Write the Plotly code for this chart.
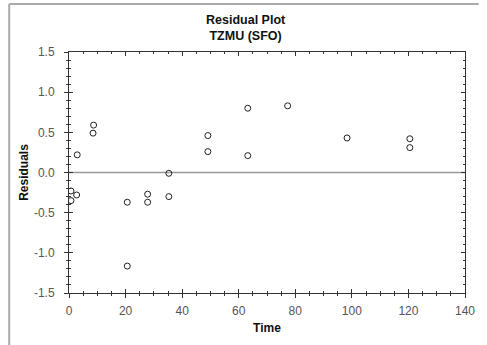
import plotly.graph_objects as go

time = [0.7, 0.7, 2.7, 2.9, 8.7, 8.5, 20.6, 20.6, 27.8, 27.8, 35.3, 35.3,
        49.1, 49.1, 63.2, 63.2, 77.3, 98.3, 120.5, 120.5]
residuals = [-0.23, -0.35, -0.28, 0.22, 0.59, 0.49, -0.37, -1.165, -0.27, -0.37,
             -0.01, -0.30, 0.46, 0.26, 0.80, 0.21, 0.83, 0.43, 0.42, 0.31]

x_range = [0, 140]
y_range = [-1.5, 1.5]
x_ticks = [0, 20, 40, 60, 80, 100, 120, 140]
y_ticks = [-1.5, -1.0, -0.5, 0.0, 0.5, 1.0, 1.5]
y_tick_text = ["-1.5", "-1.0", "-0.5", "0.0", "0.5", "1.0", "1.5"]

W, H = 487, 345
ML, MR, MT, MB = 69, 14, 52, 52
font = "Liberation Sans, Arial, sans-serif"
axcol = "#333333"
tickfont = dict(size=12, color="#555555", family=font)

fig = go.Figure()
fig.add_trace(go.Scatter(
    x=time, y=residuals, mode="markers",
    marker=dict(symbol="circle-open", size=6, color="#222222", line=dict(width=1)),
    showlegend=False, hoverinfo="skip"))
# invisible trace to activate overlay axes
fig.add_trace(go.Scatter(x=[None], y=[None], xaxis="x2", yaxis="y2", showlegend=False))

common = dict(showgrid=False, zeroline=False, linecolor=axcol, linewidth=1,
              tickcolor=axcol, tickwidth=1)

fig.update_layout(
    width=W, height=H,
    margin=dict(l=ML, r=MR, t=MT, b=MB),
    paper_bgcolor="white", plot_bgcolor="white",
    font=dict(family=font, color="#555555", size=12),
    xaxis=dict(range=x_range, tickvals=x_ticks, ticks="outside", ticklen=4,
               minor=dict(dtick=5, ticks="outside", ticklen=2, tickcolor=axcol),
               showline=True, tickfont=tickfont, ticklabelstandoff=3,
               title=dict(text="<b>Time</b>", font=dict(size=12, color="#111111"), standoff=6),
               **common),
    yaxis=dict(range=y_range, tickvals=y_ticks, ticktext=y_tick_text, ticks="outside", ticklen=4,
               minor=dict(dtick=0.1, ticks="outside", ticklen=2, tickcolor=axcol),
               showline=True, tickfont=tickfont, ticklabelstandoff=7,
               title=dict(text="<b>Residuals</b>", font=dict(size=12, color="#111111"), standoff=2),
               **common),
    xaxis2=dict(range=x_range, tickvals=x_ticks, ticks="inside", ticklen=4,
                minor=dict(dtick=5, ticks="inside", ticklen=2, tickcolor=axcol),
                showline=True, mirror="allticks", showticklabels=False,
                overlaying="x", anchor="y2", **common),
    yaxis2=dict(range=y_range, tickvals=y_ticks, ticks="inside", ticklen=4,
                minor=dict(dtick=0.1, ticks="inside", ticklen=2, tickcolor=axcol),
                showline=True, mirror="allticks", showticklabels=False,
                overlaying="y", anchor="x2", **common),
    shapes=[
        dict(type="line", xref="x", yref="y", x0=0, x1=140, y0=0, y1=0,
             line=dict(color="#999999", width=1.5), layer="below"),
        dict(type="line", xref="paper", yref="paper",
             x0=(8 - ML) / (W - ML - MR), x1=(8 - ML) / (W - ML - MR),
             y0=(H - MB - 4) / (H - MT - MB), y1=(H - MB - 345) / (H - MT - MB),
             line=dict(color="#aaaaaa", width=2)),
        dict(type="line", xref="paper", yref="paper",
             x0=(8 - ML) / (W - ML - MR), x1=(487 - ML) / (W - ML - MR),
             y0=(H - MB - 4) / (H - MT - MB), y1=(H - MB - 4) / (H - MT - MB),
             line=dict(color="#aaaaaa", width=2)),
    ],
    annotations=[
        dict(text="<b>Residual Plot</b><br><b>TZMU (SFO)</b>", xref="paper", yref="paper",
             x=(250 - ML) / (W - ML - MR), y=(H - MB - 11) / (H - MT - MB),
             xanchor="center", yanchor="top", showarrow=False,
             font=dict(size=12.5, color="#111111", family=font)),
    ],
)

fig.write_html("out.html")
